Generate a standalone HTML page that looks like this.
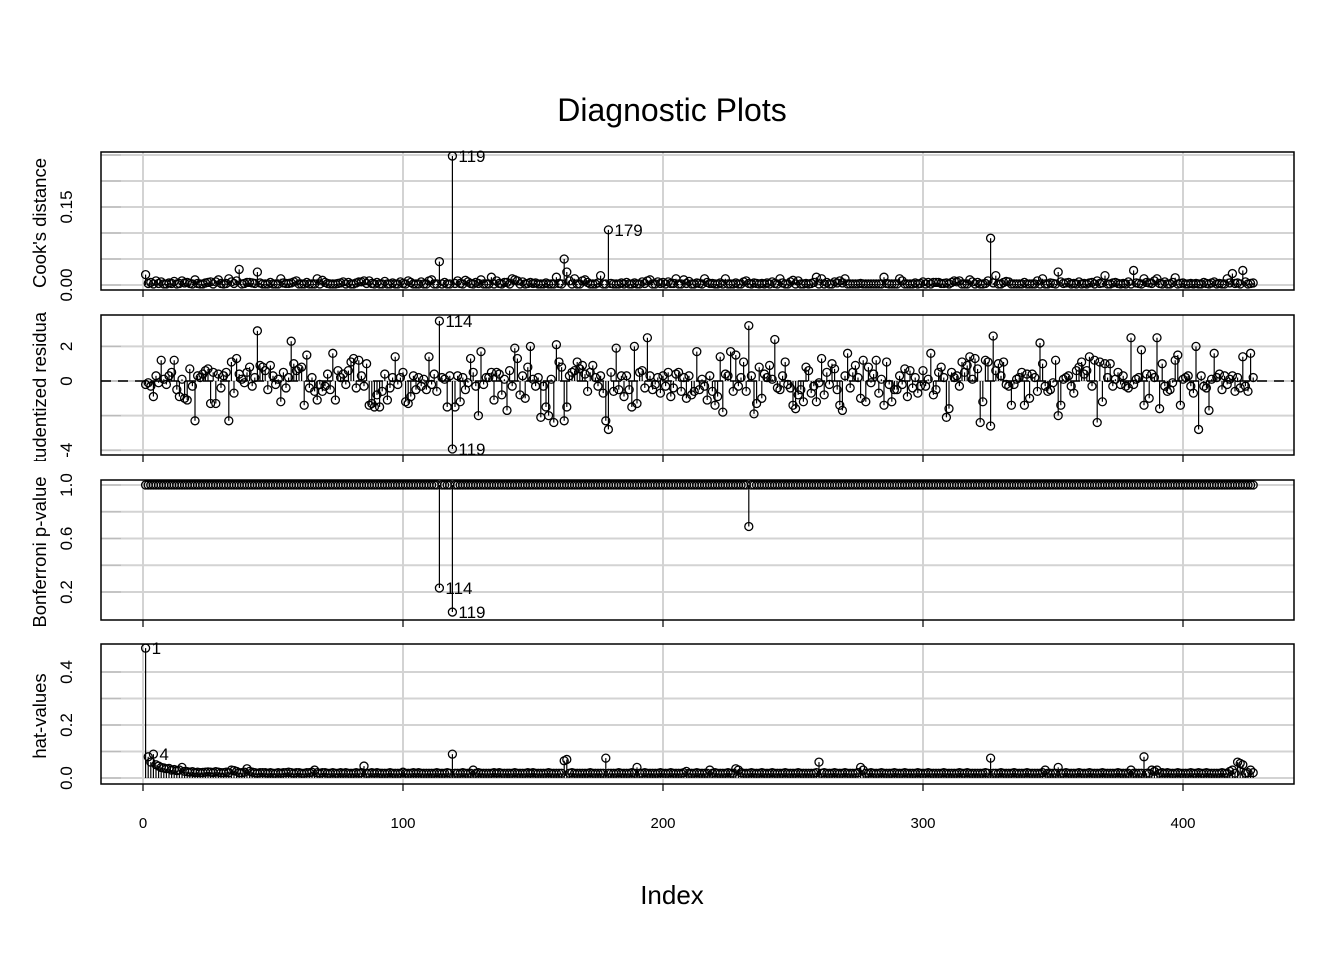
<!DOCTYPE html>
<html><head><meta charset="utf-8"><style>
html,body{margin:0;padding:0;background:#fff;}
svg{display:block;font-family:"Liberation Sans",Arial,sans-serif;}
</style></head><body>
<svg id="chart" width="1344" height="960" viewBox="0 0 1344 960" xmlns="http://www.w3.org/2000/svg">
<text x="672" y="121" font-size="32" text-anchor="middle">Diagnostic Plots</text>
<text x="672" y="904" font-size="26" text-anchor="middle">Index</text>
</svg>
<script>
const xTicks=[0,100,200,300,400];
const cookTicks=[0,0.05,0.1,0.15,0.2,0.25];
const cookTickLabels=["0.00","","","0.15","",""];
const residTicks=[-4,-2,0,2];
const residTickLabels=["-4","","0","2"];
const bonfTicks=[0.2,0.4,0.6,0.8,1.0];
const bonfTickLabels=["0.2","","0.6","","1.0"];
const hatTicks=[0,0.1,0.2,0.3,0.4];
const hatTickLabels=["0.0","","0.2","","0.4"];
const resid=[
-0.2,-0.1,-0.3,-0.9,0.3,-0.1,1.2,0.1,-0.2,0.3,0.5,1.2,-0.5,-0.9,0.1,-1.0,-1.1,0.7,-0.3,-2.3,
0.3,0.2,0.4,0.6,0.7,-1.3,0.5,-1.3,0.4,-0.4,0.3,0.5,-2.3,1.1,-0.7,1.3,0.4,0.1,-0.1,0.5,
0.8,-0.3,0.2,2.9,0.9,0.8,0.6,-0.5,0.9,0.3,-0.2,0.1,-1.2,0.5,-0.4,0.2,2.3,1.0,0.6,0.7,
0.8,-1.4,1.5,-0.4,0.2,-0.6,-1.1,-0.2,-0.6,-0.3,0.4,-0.5,1.6,-1.1,0.6,0.2,0.4,-0.2,0.6,1.1,
1.3,-0.4,1.2,0.3,-0.3,1.0,-1.4,-1.3,-1.5,-0.8,-1.5,-0.6,0.4,-1.1,-0.4,0.2,1.4,-0.2,0.2,0.5,
-1.2,-1.3,-0.9,0.3,-0.5,0.2,-0.3,0.1,-0.5,1.4,-0.2,0.4,-0.6,3.47,0.2,0.1,-1.5,0.3,-3.93,-1.5,
0.3,-1.2,0.2,-0.5,-0.1,1.3,0.5,-0.3,-2.0,1.7,-0.2,0.2,0.2,0.5,-1.1,0.5,0.4,-0.8,0.1,-1.7,
0.6,-0.3,1.9,1.3,-0.8,0.3,-1.0,0.8,2.0,0.1,-0.3,0.2,-2.1,-0.3,-1.5,-2.0,0.1,-2.4,2.1,1.1,
0.8,-2.3,-1.5,0.3,0.5,0.6,1.1,0.7,0.9,0.4,-0.6,0.5,0.9,0.2,-0.3,0.3,-0.7,-2.3,-2.8,0.5,
-0.6,1.9,-0.5,0.3,-0.9,0.3,-0.5,-1.5,2.0,-1.3,0.5,0.6,-0.4,2.5,0.3,-0.5,-0.2,0.2,-0.7,0.3,
-0.3,0.5,-0.9,-0.4,0.4,0.5,-0.6,0.2,-1.0,0.3,-0.8,-0.6,1.7,-0.5,0.1,-0.3,-1.1,0.3,-0.6,-1.4,
-0.9,1.4,-1.8,0.4,0.3,1.7,-0.6,1.5,-0.3,0.2,1.1,-0.6,3.2,0.3,-1.9,-1.3,0.8,-1.0,0.4,0.2,
0.9,0.1,2.4,-0.4,-0.5,0.3,1.1,-0.2,-0.4,-1.4,-1.6,-0.8,-0.5,-1.2,0.8,0.6,-0.7,-0.3,-1.2,-0.1,
1.3,-0.8,0.5,-0.2,1.0,0.7,-0.5,-1.4,-1.7,0.3,1.6,-0.4,0.5,0.9,0.2,-1.0,1.2,-1.2,0.8,-0.1,
0.4,1.2,-0.7,0.1,-1.4,1.1,-0.2,-1.2,-0.5,-0.5,0.3,-0.2,0.7,-0.9,0.6,-0.4,0.2,-0.7,-0.3,0.6,
-0.3,0.1,1.6,-0.8,-0.5,0.5,0.8,0.2,-2.1,-1.6,0.5,0.2,0.3,-0.3,1.1,0.5,0.9,1.4,0.1,1.3,
0.7,-2.4,-1.2,1.2,1.1,-2.6,2.6,0.6,1.0,0.3,1.1,-0.2,-0.3,-1.4,-0.2,0.1,0.2,0.5,-1.4,0.4,
-1.0,0.4,0.2,-0.6,2.2,1.0,-0.3,-0.6,-0.5,-0.1,1.2,-2.0,-1.4,0.1,0.2,0.3,-0.3,-0.7,0.6,0.8,
1.1,0.4,0.6,1.4,-0.3,1.2,-2.4,1.1,-1.2,1.0,0.2,1.0,-0.3,0.1,0.5,-0.2,0.3,-0.3,-0.4,2.5,
-0.2,0.1,0.2,1.8,-1.4,0.4,-1.0,0.4,0.2,2.5,-1.6,1.0,-0.3,-0.6,-0.5,-0.1,1.2,1.5,-1.4,0.1,
0.2,0.3,-0.3,-0.7,2.0,-2.8,0.3,-0.3,-0.4,-1.7,0.1,1.6,0.2,0.4,-0.5,0.3,-0.2,0.1,0.3,-0.6,
0.2,-0.4,1.4,-0.3,-0.6,1.6,0.2
];
const cookMilli=[
20,3,5,2,8,3,6,2,2,4,3,7,2,3,8,4,5,3,2,10,
3,2,2,4,5,6,2,6,10,3,2,3,12,6,3,8,30,2,3,5,
5,4,3,25,4,2,2,2,5,2,2,2,12,4,3,3,4,6,8,2,
2,2,5,2,2,2,12,2,9,5,3,2,2,2,3,4,6,2,5,2,
2,4,6,6,8,3,8,3,2,5,2,2,7,2,2,4,2,2,6,3,
2,8,5,2,2,2,6,2,2,8,10,2,2,45,2,5,2,2,248,3,
8,3,2,9,6,3,2,5,3,10,2,2,2,15,2,8,3,2,5,5,
2,12,10,8,2,6,2,3,5,3,4,2,2,2,4,2,2,2,15,3,
2,50,25,8,2,12,2,2,8,10,5,2,2,2,4,18,2,2,106,3,
2,2,2,4,2,5,2,2,4,2,2,6,3,8,10,2,2,6,3,5,
2,6,3,3,12,2,2,10,3,7,2,2,4,3,2,12,5,3,3,2,
2,4,2,12,2,2,2,4,2,2,6,8,3,2,4,3,2,3,2,4,
2,6,3,2,12,4,2,2,6,9,2,8,2,2,3,2,3,5,15,2,
12,2,5,2,2,6,4,8,4,12,2,2,2,2,2,3,2,2,2,2,
2,2,2,2,15,3,2,2,2,2,12,8,2,2,2,2,4,2,3,6,
2,5,2,5,5,5,3,3,4,2,5,8,6,8,2,2,2,10,6,2,
5,2,2,3,8,90,4,18,2,2,5,7,6,2,2,2,2,2,5,2,
2,2,2,8,2,12,2,2,4,3,2,25,6,3,4,5,2,3,2,6,
2,3,2,4,5,2,8,3,4,18,2,2,4,5,3,2,3,2,6,2,
28,4,3,2,12,5,4,3,8,12,3,2,6,2,2,5,14,2,3,4,
2,2,3,2,3,2,2,5,3,2,4,6,2,3,2,2,12,4,22,3,
4,2,28,6,2,3,4
];
const hatMilli=[
490,80,60,90,50,45,40,38,35,36,30,32,28,30,40,25,24,22,24,20,
22,20,21,22,23,22,21,24,22,20,20,22,20,30,28,25,20,20,22,35,
25,22,20,18,20,20,20,18,20,18,18,20,18,20,20,22,20,18,20,20,
18,18,20,20,22,30,20,18,20,20,18,18,20,18,18,20,18,20,18,18,
18,20,18,20,45,18,18,20,18,20,18,18,18,18,20,18,18,18,18,22,
18,18,18,20,18,20,18,18,18,18,18,18,20,18,18,18,20,18,90,18,
18,18,20,18,18,18,30,18,20,18,18,18,18,18,20,18,20,18,18,18,
18,18,20,18,18,18,18,20,18,20,18,18,18,18,18,20,18,18,18,18,
18,65,70,18,20,18,18,18,18,18,18,20,18,18,18,18,18,75,18,18,
18,18,20,18,18,18,18,20,18,40,18,18,20,18,18,18,18,18,20,18,
18,18,20,18,18,18,18,20,25,18,18,18,20,18,18,18,18,30,18,20,
18,18,18,18,20,18,18,35,30,20,18,18,18,20,18,18,18,20,18,18,
18,20,18,18,18,18,20,18,18,18,18,20,18,18,18,18,18,18,20,60,
18,20,18,18,18,20,18,18,18,20,18,18,18,18,20,40,30,18,18,20,
18,18,18,20,18,18,18,18,20,18,18,18,20,18,18,18,18,20,18,18,
18,20,18,18,18,18,18,20,18,18,18,18,18,20,18,18,20,18,18,18,
18,18,18,20,18,75,18,18,18,20,18,18,18,18,20,18,18,18,18,20,
18,18,18,18,18,20,30,18,18,18,18,40,18,18,20,18,18,18,18,20,
18,18,18,20,18,18,18,18,20,18,18,18,18,18,20,18,18,18,18,30,
18,18,18,18,80,18,18,30,25,30,18,20,18,20,18,18,18,20,18,18,
18,18,20,18,18,20,18,18,20,18,18,18,18,18,20,18,18,25,30,18,
60,55,50,18,20,30,20
];
const bonfIdx=[114,119,233];
const bonfVal=[0.23,0.05,0.69];
const labelIdx1=[119,179];
const labelIdx2=[114,119];
const labelIdx4=[1,4];

const NS="http://www.w3.org/2000/svg";
const svg=document.getElementById('chart');
const N=427;
const L=101,R=1294;
function sx(i){return 143+i*2.6;}
function el(t,a,p){const e=document.createElementNS(NS,t);for(const k in a)e.setAttribute(k,a[k]);(p||svg).appendChild(e);return e;}
const hat=hatMilli.map(v=>v/1000);
const cook=cookMilli.map(v=>v/1000);
const bonf=[];for(let i=1;i<=N;i++)bonf.push(1);
bonfIdx.forEach((ix,k)=>{bonf[ix-1]=bonfVal[k];});

function panel(name,top,bot,y0px,ppu,ticks,tlabels,ylabel,vals,base,labels,dashed){
  const g=el('g',{});
  
  
  const sy=v=>y0px-v*ppu;
  const cid='clip-'+name;
  const cp=el('clipPath',{id:cid},g);el('rect',{x:0,y:top-4,width:100,height:bot-top+10},cp);
  const cg=el('g',{'clip-path':`url(#${cid})`},g);
  const yl=el('text',{x:0,y:0,'font-size':18.5,'text-anchor':'middle',transform:`translate(46,${(top+bot)/2+2}) rotate(-90)`},cg);
  yl.textContent=ylabel;
  
  
  xTicks.forEach(t=>{const l=el('line',{x1:sx(t),x2:sx(t),y1:top,y2:bot,stroke:'#d3d3d3','stroke-width':2},g);
    
    el('line',{x1:sx(t),x2:sx(t),y1:bot,y2:bot+7,stroke:'#000','stroke-width':1.2},g);});
  ticks.forEach((t,k)=>{const y=sy(t);
    const l=el('line',{x1:L,x2:R,y1:y,y2:y,stroke:'#d3d3d3','stroke-width':2},g);
    
    el('line',{x1:L,x2:L+20,y1:y,y2:y,stroke:'#bbb','stroke-width':1.2},g);
    if(tlabels[k]){const tx=el('text',{x:0,y:0,'font-size':17,'text-anchor':'middle',transform:`translate(72,${y}) rotate(-90)`},g);tx.textContent=tlabels[k];
      }});
  if(dashed){el('line',{x1:L,x2:R,y1:sy(0),y2:sy(0),stroke:'#000','stroke-width':1.5,'stroke-dasharray':'10,7'},g);}
  const mk=el('g',{},g);
  
  
  vals.forEach((v,i)=>{const x=sx(i+1),y=sy(v);
    el('line',{x1:x,x2:x,y1:sy(base),y2:y,stroke:'#000','stroke-width':1.2},mk);
    const c=el('circle',{cx:x,cy:y,r:4,fill:'none',stroke:'#000','stroke-width':1.3},mk);
    
    });
  labels.forEach(ix=>{const t=el('text',{x:sx(ix)+6,y:sy(vals[ix-1])+6,'font-size':17},g);t.textContent=String(ix);
    });
  const b=el('rect',{x:L,y:top,width:R-L,height:bot-top,fill:'none',stroke:'#000','stroke-width':1.5},g);
  
}
panel('cooks-distance',152,290,285,520,cookTicks,cookTickLabels,"Cook's distance",cook,0,labelIdx1,false);
panel('studentized-residuals',315,455,381,17.3,residTicks,residTickLabels,"Studentized residuals",resid,0,labelIdx2,true);
panel('bonferroni-p-value',480,620,618.75,133.75,bonfTicks,bonfTickLabels,"Bonferroni p-value",bonf,1,labelIdx2,false);
panel('hat-values',644,784,778,265,hatTicks,hatTickLabels,"hat-values",hat,0,labelIdx4,false);
xTicks.forEach(t=>{const tx=el('text',{x:sx(t),y:828,'font-size':15,'text-anchor':'middle'});tx.textContent=String(t);
  });
</script>
</body></html>
